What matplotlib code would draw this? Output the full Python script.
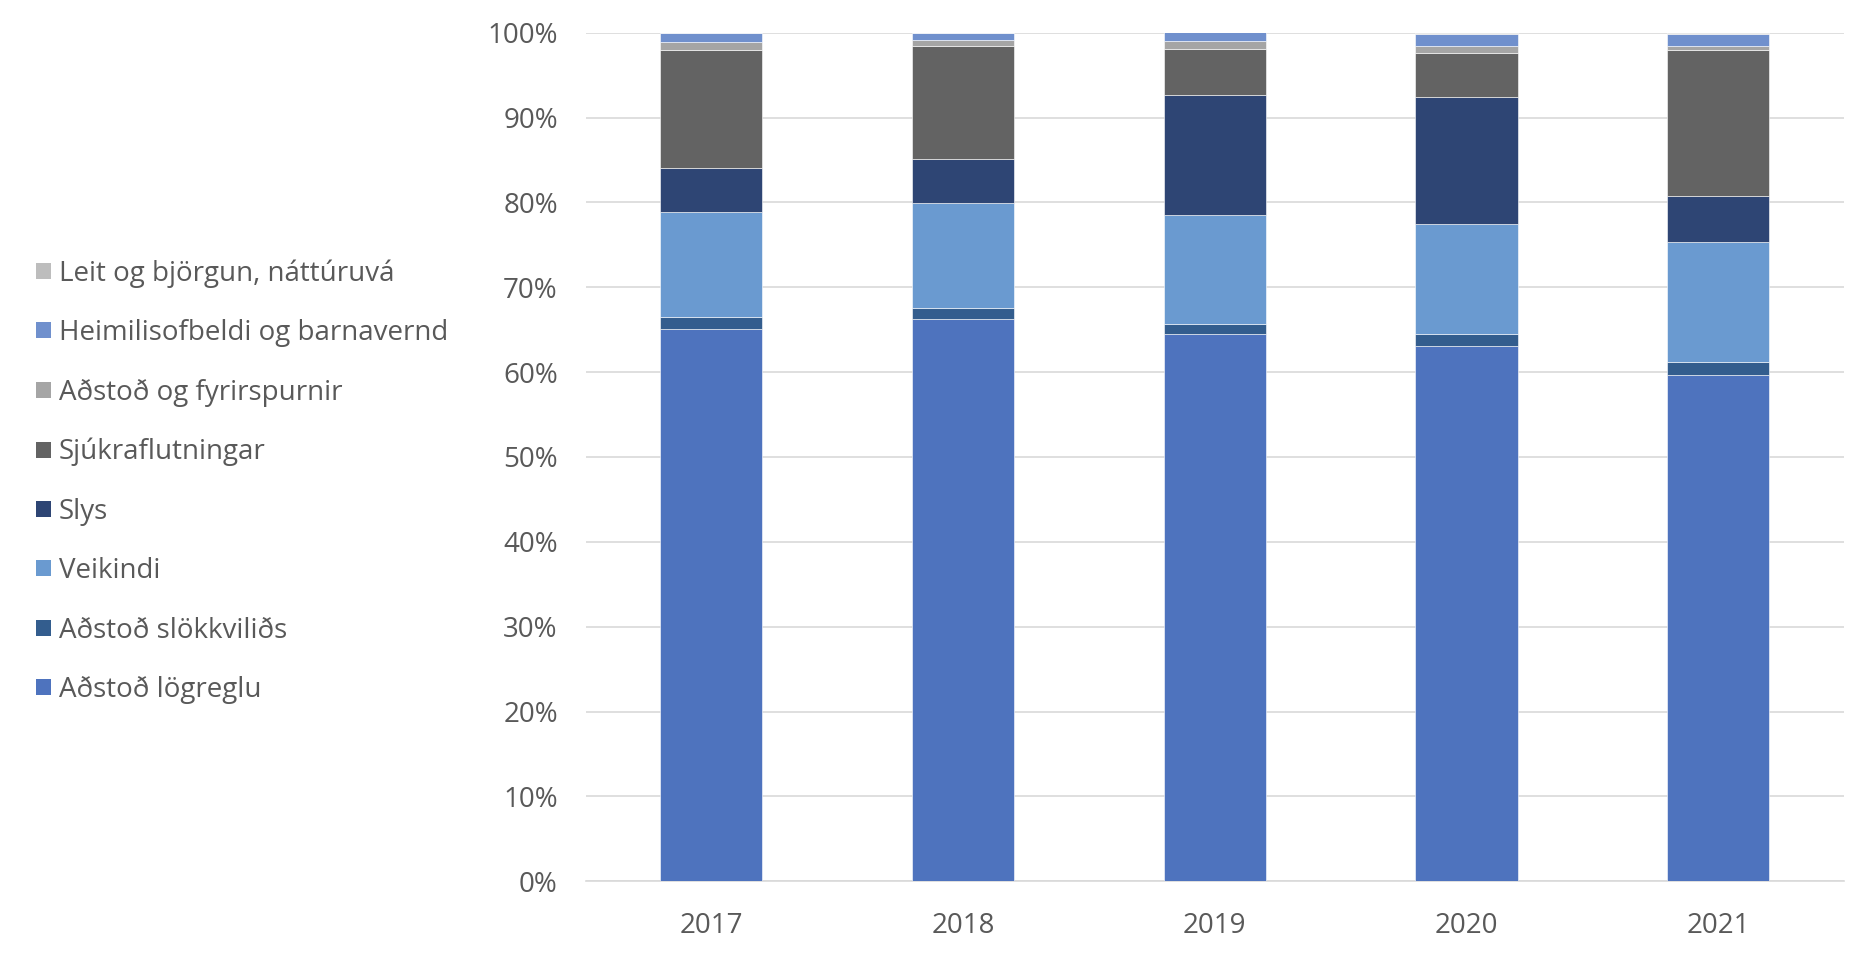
import numpy as np
import matplotlib.pyplot as plt
from matplotlib.patches import Patch

plt.rcParams['font.family'] = ['Open Sans', 'DejaVu Sans']

years = ['2017', '2018', '2019', '2020', '2021']

# shares in percent, bottom of the stack first
logreglu = [65.1, 66.3, 64.5, 63.05, 59.7]
slokkvilids = [1.4, 1.3, 1.2, 1.4, 1.5]
veikindi = [12.4, 12.3, 12.8, 13.0, 14.1]
slys = [5.2, 5.2, 14.2, 15.0, 5.4]
sjukraflutningar = [13.9, 13.3, 5.4, 5.2, 17.3]
fyrirspurnir = [0.95, 0.75, 0.95, 0.8, 0.4]
heimilisofbeldi = [1.0, 0.85, 1.0, 1.4, 1.4]
leit = [0.05, 0.0, 0.0, 0.15, 0.2]

series = [
    ('Aðstoð lögreglu', logreglu, '#4E73BE'),
    ('Aðstoð slökkviliðs', slokkvilids, '#335D8E'),
    ('Veikindi', veikindi, '#6A9AD0'),
    ('Slys', slys, '#2E4574'),
    ('Sjúkraflutningar', sjukraflutningar, '#636363'),
    ('Aðstoð og fyrirspurnir', fyrirspurnir, '#A5A5A5'),
    ('Heimilisofbeldi og barnavernd', heimilisofbeldi, '#7090CD'),
    ('Leit og björgun, náttúruvá', leit, '#BDBDBD'),
]

text_color = '#595959'

fig = plt.figure(figsize=(18.72, 9.6), dpi=100)
ax = fig.add_axes([0.3128, 0.082, 0.6722, 0.884])

x = np.arange(len(years))
bottom = np.zeros(len(years))
for name, vals, col in series:
    vals = np.array(vals)
    ax.bar(x, vals, width=0.406, bottom=bottom, color=col,
           edgecolor='white', linewidth=0.4, zorder=3)
    bottom += vals

ax.set_xlim(-0.5, 4.5)
ax.set_ylim(0, 100)
ax.set_yticks(np.arange(0, 101, 10))
ax.set_yticklabels([f'{v}%' for v in range(0, 101, 10)])
ax.set_xticks(x)
ax.set_xticklabels(years)
ax.tick_params(axis='y', length=0, pad=20, labelsize=20, labelcolor=text_color)
ax.tick_params(axis='x', length=0, pad=22, labelsize=20, labelcolor=text_color)
ax.grid(axis='y', color='#D9D9D9', linewidth=1.2, zorder=0)
for s in ['top', 'right', 'left']:
    ax.spines[s].set_visible(False)
ax.spines['bottom'].set_color('#D9D9D9')
ax.spines['bottom'].set_linewidth(1.2)

handles = [Patch(facecolor=col, edgecolor='none', label=name)
           for name, vals, col in series[::-1]]
fig.legend(handles=handles, loc='upper left', bbox_to_anchor=(0.006, 0.756),
           frameon=False, fontsize=20, labelcolor=text_color,
           handlelength=0.52, handleheight=0.52, handletextpad=0.3,
           labelspacing=1.13)

plt.savefig('out.png')
